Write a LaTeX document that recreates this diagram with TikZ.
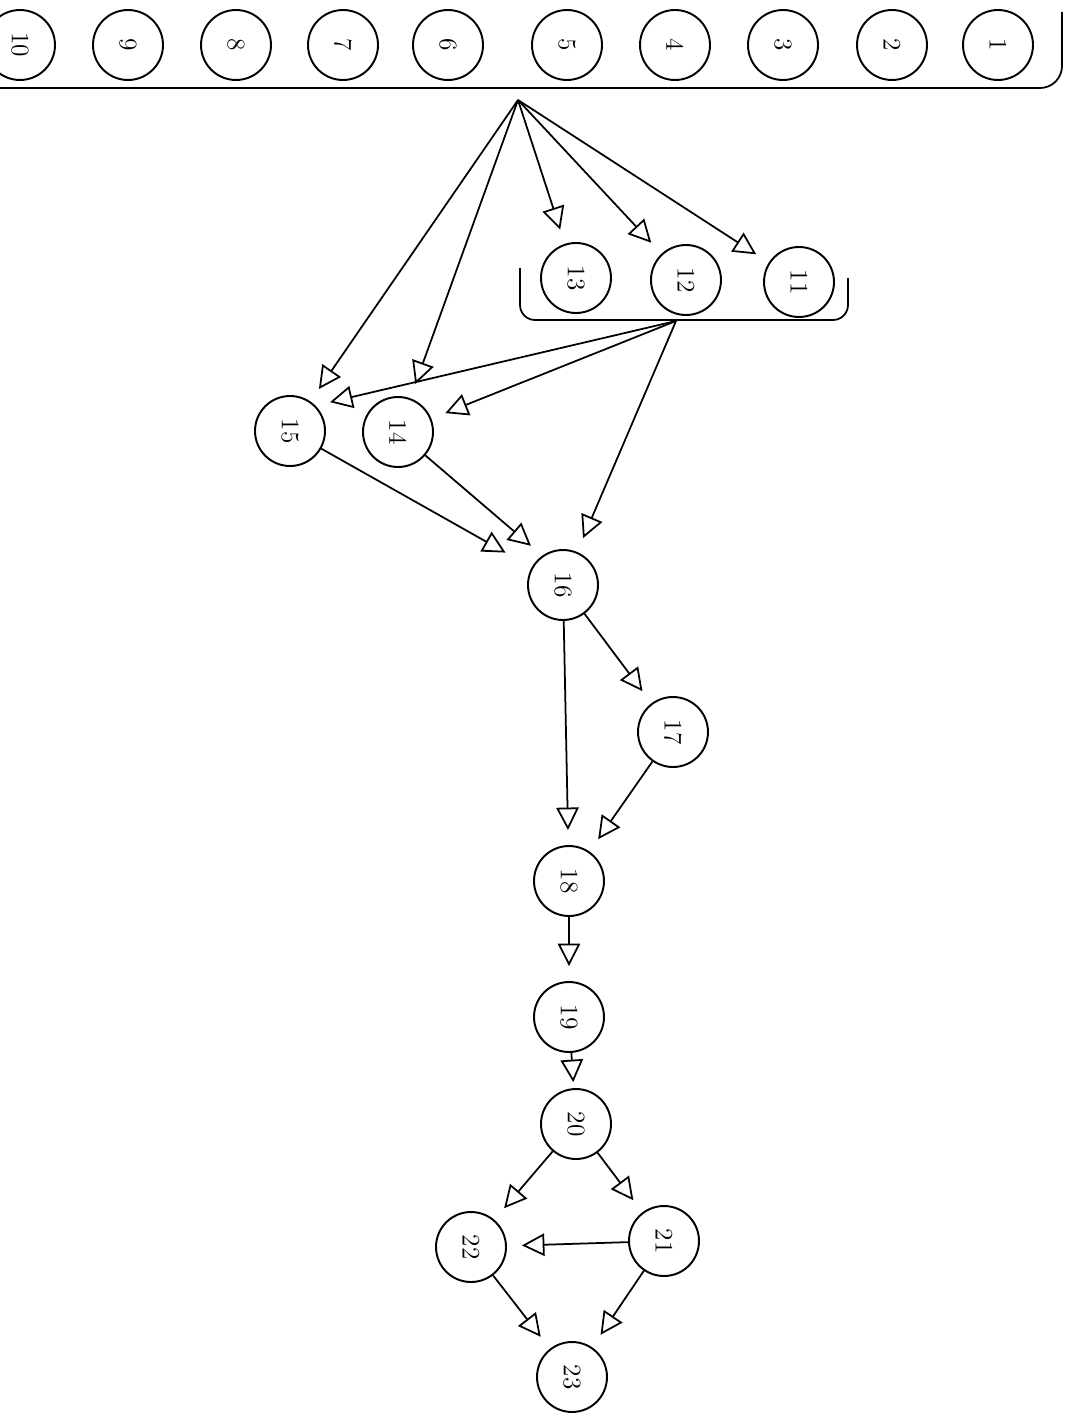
\documentclass[tikz,border=0pt]{standalone}
\usetikzlibrary{arrows.meta}
\newcommand{\joblabel}[1]{\rotatebox{-90}{#1}}
\begin{document}
\begin{tikzpicture}[x=0.02cm,y=-0.02cm,
  job/.style={circle,draw,line width=1.1pt,minimum size=1.4cm,inner sep=0pt,font=\Large},
  link/.style={line width=1pt,-{Triangle[open,length=0.45cm,width=0.45cm,fill=white]},shorten >=0.3cm}]
  \useasboundingbox (0,0) rectangle (1072,1419);
  % first row of jobs
  \foreach \i/\x in {10/20,9/128,8/236,7/343,6/448,5/567,4/675,3/783,2/892,1/998}
    \node[job] (n\i) at (\x,45) {\joblabel{\i}};
  \draw[line width=1pt] (0,88) -- (1040,88) to[out=0,in=-90] (1062,66) -- (1062,12);
  \coordinate (fan) at (518,100);

  % second group
  \node[job] (n13) at (576,278) {\joblabel{13}};
  \node[job] (n12) at (686,280) {\joblabel{12}};
  \node[job] (n11) at (799,282) {\joblabel{11}};
  \draw[line width=1pt,rounded corners=0.3cm] (520,268) -- (520,320) -- (848,320) -- (848,278);
  \coordinate (brk) at (676,321);

  \node[job] (n15) at (290,431) {\joblabel{15}};
  \node[job] (n14) at (398,432) {\joblabel{14}};
  \node[job] (n16) at (563,585) {\joblabel{16}};
  \node[job] (n17) at (673,732) {\joblabel{17}};
  \node[job] (n18) at (569,881) {\joblabel{18}};
  \node[job] (n19) at (569,1017) {\joblabel{19}};
  \node[job] (n20) at (576,1124) {\joblabel{20}};
  \node[job] (n22) at (471,1247) {\joblabel{22}};
  \node[job] (n21) at (664,1241) {\joblabel{21}};
  \node[job] (n23) at (572,1377) {\joblabel{23}};

  \foreach \t in {11,12,13,14,15}
    \draw[link] (fan) -- (n\t);
  \draw[link] (brk) -- (n15.45);
  \draw[link] (brk) -- (n14);
  \draw[link] (brk) -- (n16);
  \draw[link,shorten >=0.6cm] (n15) -- (n16);
  \draw[link] (n14) -- (n16.125);
  \draw[link,shorten >=0.12cm] (n19) -- (n20);
  \foreach \s/\t in {16/17,16/18,17/18,18/19,20/21,20/22,21/22,21/23,22/23}
    \draw[link] (n\s) -- (n\t);
\end{tikzpicture}
\end{document}
